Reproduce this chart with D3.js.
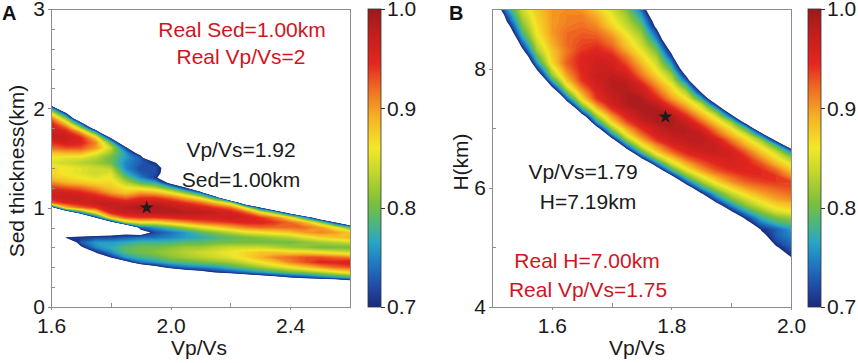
<!DOCTYPE html>
<html lang="en">
<head>
<meta charset="UTF-8" />
<title>Vp/Vs stacking panels</title>
<script src="https://d3js.org/d3.v7.min.js"></script>
<style>
  body { margin: 0; background: #fff; }
  svg { display: block; font-family: 'Liberation Sans', Arial, Helvetica, sans-serif; }
  .frame { fill: none; stroke: #8c8c8c; stroke-width: 1; shape-rendering: crispEdges; }
  .axis line { stroke: #8c8c8c; shape-rendering: crispEdges; }
  .axis text { font-size: 21px; fill: #1a1a1a; font-family: 'Liberation Sans', Arial, sans-serif; }
  .cbar line { stroke: #333; }
  .title { font-size: 21px; fill: #1a1a1a; }
  .note { font-size: 21px; text-anchor: middle; }
  .tag { font-size: 20px; font-weight: bold; fill: #111; }
</style>
</head>
<body>
<svg id="chart" width="858" height="363"></svg>
<script>
// ---- tick values ----
const vpvsTicksA = [1.6, 2.0, 2.4];
const vpvsMinorA = [1.8, 2.2];
const sedTicksA = [0, 1, 2, 3];
const sedMinorA = [0.2, 0.4, 0.6, 0.8, 1.2, 1.4, 1.6, 1.8, 2.2, 2.4, 2.6, 2.8];
const vpvsTicksB = [1.6, 1.8, 2.0];
const vpvsMinorB = [1.5, 1.7, 1.9];
const hTicksB = [4, 6, 8];
const hMinorB = [5, 7, 9];
const colorbarTicks = [0.7, 0.8, 0.9, 1.0];

// ---- annotations ----
const notesA = ["Real Sed=1.00km", "Real Vp/Vs=2", "Vp/Vs=1.92", "Sed=1.00km"];
const notesB = ["Vp/Vs=1.79", "H=7.19km", "Real H=7.00km", "Real Vp/Vs=1.75"];
const bestA = [1.92, 1.00];   // Vp/Vs, sediment thickness (km)
const bestB = [1.79, 7.19];   // Vp/Vs, H (km)

// ---- panel A: normalised stack amplitude (x100), read column by column ----
// [Vp/Vs, first sediment thickness (km), values every 0.05 km upward]
const sedColumns = [
  [1.60, 1.00, [64, 92, 96, 96, 94, 91, 88, 87, 87, 85, 86, 88, 92, 94, 97, 97, 96, 95, 92, 86, 77, 65]],
  [1.65, 0.65, [62, 70.5, 55, 50, 50, 50, 58, 88, 95, 97, 96, 93, 89, 87, 86, 86, 84, 85, 89, 93, 96, 97, 96, 93, 88, 81, 71, 57]],
  [1.70, 0.55, [58, 69, 73, 71, 66, 55, 55, 50, 75, 92, 96, 97, 95, 92, 88, 86, 85, 85, 83, 85, 89, 93, 95, 95, 91, 83, 73, 58]],
  [1.75, 0.50, [62, 70.5, 75, 76, 72, 65, 55, 58, 70.5, 86, 94, 97, 96, 93, 90, 87, 85, 84, 84, 82, 83, 86, 90, 91, 88, 79, 65]],
  [1.80, 0.45, [60, 70.5, 75, 77, 76, 72, 67, 58, 65, 88, 95, 97, 97, 94, 90, 88, 87, 86, 85, 83, 80, 80, 82, 84, 80, 70.5, 55]],
  [1.85, 0.40, [58, 68, 76, 79, 79, 77, 73, 68, 52, 82, 93, 97, 98, 96, 92, 88, 86, 83, 80, 77, 75, 75, 76, 76, 72, 62]],
  [1.90, 0.40, [64, 74, 78, 80, 80, 78, 74, 66, 73, 86, 94, 97, 99, 97, 94, 90, 85, 79, 75, 73, 72, 73, 73, 67, 55]],
  [1.95, 0.35, [60, 68, 76, 79, 81, 80, 78, 74, 72, 76, 86, 94, 98, 99, 97, 94, 89, 83, 77, 71, 72, 72.5, 70.5, 55]],
  [2.00, 0.35, [62, 72, 78, 81, 82, 81, 78, 75, 74, 79, 88, 95, 98, 98, 96, 92, 86, 78, 68, 62, 66, 66, 58]],
  [2.05, 0.35, [66, 74, 79, 82, 83, 82, 79, 76, 76, 82, 90, 96, 98, 97, 94, 89, 81, 70.5, 58]],
  [2.10, 0.30, [58, 68, 75, 80, 83, 84, 82, 79, 77, 79, 85, 92, 96, 98, 96, 92, 85, 74, 54]],
  [2.15, 0.30, [62, 70.5, 76, 81, 84, 85, 83, 80, 78, 81, 87, 93, 96, 97, 94, 88, 76, 50]],
  [2.20, 0.30, [62, 72, 78, 82, 85, 86, 84, 80, 79, 83, 89, 94, 97, 96, 92, 83, 50]],
  [2.25, 0.25, [55, 64, 74, 80, 84, 87, 87, 84, 80, 80, 85, 91, 95, 96, 93, 85, 60]],
  [2.30, 0.25, [58, 66, 76, 82, 86, 89, 88, 84, 80, 81, 86, 92, 95, 94, 87, 70.5, 50]],
  [2.35, 0.25, [60, 68, 78, 84, 88, 91, 88, 83, 80, 82, 87, 92, 94, 91, 80, 55]],
  [2.40, 0.25, [62, 70.5, 80, 86, 91, 92, 87, 82, 80, 83, 88, 92, 92, 86, 66]],
  [2.45, 0.25, [62, 72, 81, 88, 93, 93, 87, 81, 81, 85, 90, 92, 89, 76, 50]],
  [2.50, 0.25, [61, 74, 83, 90, 95, 93, 86, 80, 82, 87, 91, 90, 82, 62]],
  [2.55, 0.25, [61, 76, 85, 92, 95, 92, 85, 80, 83, 88, 90, 86, 70.5, 50]],
  [2.60, 0.25, [65, 78, 87, 93, 96, 91, 84, 80, 84, 89, 88, 79, 57]]
];

// ---- panel B: normalised stack amplitude (x100), read row by row ----
// [H (km), first Vp/Vs, values every 0.025 in Vp/Vs to the right]
const hRows = [
  [9.2, 1.500, [68, 79, 85, 88, 89, 89, 88, 85.5, 82, 78, 68]],
  [9.1, 1.500, [65, 78, 84, 88, 89.5, 90, 89, 86.5, 83, 79.5, 71, 58]],
  [9.0, 1.500, [62, 76, 84, 88, 90, 90.5, 90, 87.5, 84.5, 80.5, 73.5, 61]],
  [8.9, 1.500, [57, 73, 83, 87.5, 90, 91, 91, 89, 85.5, 82, 76, 64]],
  [8.8, 1.525, [70.5, 81.5, 87, 90, 91, 91.5, 90, 86.5, 83, 78, 67]],
  [8.7, 1.525, [67, 80, 86.5, 90, 91.5, 92, 91, 87.5, 84, 80, 69]],
  [8.6, 1.525, [64, 78, 86, 90, 92, 92.5, 92, 89.5, 85.5, 81.5, 72.5, 57]],
  [8.5, 1.525, [59, 75.5, 85, 89.5, 92, 93, 93, 91, 87, 83, 75, 61]],
  [8.4, 1.525, [54, 72, 83.5, 89, 92, 93.5, 94, 92, 88, 84, 78, 65]],
  [8.3, 1.550, [68, 82, 88, 91.5, 94, 95, 93.5, 89.5, 85.5, 80.5, 68.5]],
  [8.2, 1.550, [63, 79, 87.5, 92, 95, 96, 95, 91.5, 87, 82.5, 72, 55]],
  [8.1, 1.550, [58, 76, 87, 92.5, 95, 96.5, 96, 93, 88.5, 84, 75.5, 60]],
  [8.0, 1.550, [51, 71, 84.5, 91.5, 95, 96.5, 96.5, 94.5, 90, 85.5, 78.5, 64]],
  [7.9, 1.575, [65.5, 82, 90, 94.5, 97, 97.5, 96, 91.5, 87, 82, 68.5]],
  [7.8, 1.575, [57.5, 77, 88, 94, 96.5, 98, 97.5, 93.5, 89, 84, 73.5, 55.5]],
  [7.7, 1.575, [55, 70.2, 85, 92, 96, 98, 98.3, 96, 91, 86.5, 79, 64]],
  [7.6, 1.600, [62, 80, 89.5, 95, 97.5, 98.5, 97, 93, 88, 83, 70, 55]],
  [7.5, 1.625, [73.5, 87, 94, 97, 98.5, 98.5, 95, 90, 86, 77, 61]],
  [7.4, 1.625, [65.5, 82, 91, 96, 98.5, 99, 97.5, 93, 88.5, 83.5, 70, 55]],
  [7.3, 1.625, [54.5, 75, 87, 93.5, 97, 98.5, 99, 96, 91.5, 86.5, 79, 63]],
  [7.2, 1.650, [66, 82, 90, 95.5, 98, 99, 98.5, 94.5, 89.5, 84.5, 73, 55]],
  [7.1, 1.650, [57.5, 76, 87, 93, 96.5, 98.5, 99, 97, 92.5, 87.5, 82, 67]],
  [7.0, 1.675, [67.5, 82, 89.5, 94.5, 97, 98.5, 98, 95.5, 90.5, 86, 78, 61]],
  [6.9, 1.675, [58, 75.5, 86.5, 92, 96, 97.5, 98, 97.5, 93, 88.5, 84, 73, 55]],
  [6.8, 1.700, [67, 81.5, 89, 94, 96.5, 97.5, 98, 96, 91.5, 87, 82, 68.5]],
  [6.7, 1.700, [57, 74, 85, 90.5, 94.5, 96.5, 97.5, 97, 94, 89.5, 85.5, 79, 65]],
  [6.6, 1.725, [65, 79, 87.5, 92, 95, 96.5, 97, 96, 92.5, 88, 84, 76]],
  [6.5, 1.750, [70.3, 82, 88, 92.5, 94.5, 95.5, 96, 94.5, 90.5, 86.5, 82]],
  [6.4, 1.750, [59, 74, 84, 89, 92.5, 94.5, 95.5, 95, 93, 89, 85.5]],
  [6.3, 1.775, [65, 78, 85.5, 90, 93, 94.5, 95, 94.5, 92, 88]],
  [6.2, 1.775, [55, 69, 80.5, 86, 90, 92.5, 94, 94.5, 94, 90.5]],
  [6.1, 1.800, [61, 73.5, 82, 87, 90.5, 92.5, 93.5, 94, 93.5]],
  [6.0, 1.825, [65.5, 76.5, 83, 87, 90, 91.5, 92.5, 93]],
  [5.9, 1.825, [55, 69.3, 78, 83.5, 87, 89.5, 91, 92]],
  [5.8, 1.850, [62.5, 73, 80, 84, 87, 89.5, 90.5]],
  [5.7, 1.875, [66.5, 75, 81, 84.5, 87, 88]],
  [5.6, 1.875, [55, 69.4, 76.5, 81, 84.5, 86]],
  [5.5, 1.900, [64.5, 71.5, 77.5, 80.5, 82]],
  [5.4, 1.925, [67.5, 74, 77.5, 79]],
  [5.3, 1.925, [60, 70.3, 73, 76]],
  [5.2, 1.950, [68.3, 73, 75]],
  [5.1, 1.950, [65, 72, 74]],
  [5.0, 1.975, [69.4, 73]],
  [4.9, 1.975, [67, 71.5]],
  [4.8, 1.975, [55, 69]],
  [4.7, 2.000, [60]]
];

// jet-like colour map of the figure
const colorStops = [0.70, 0.72, 0.745, 0.765, 0.785, 0.805, 0.835, 0.86, 0.89, 0.92, 0.945, 0.975, 1.0];
const colorRange = ["#1b2a78", "#1f4aa5", "#1f7cc3", "#28a6c6", "#4fb77a", "#7cbf3b",
                    "#c3d62d", "#f3e829", "#f6b425", "#ef6c22", "#e3261f", "#c21e1e", "#9a1a1b"];
const color = d3.scaleLinear().domain(colorStops).range(colorRange).clamp(true);

const svg = d3.select("#chart");
const levels = d3.range(140, 200, 1).map(v => v / 200);   // 0.700 .. 0.995
const FLOOR = 0.5;

function emptyGrid(nx, ny) { return new Array(nx * ny).fill(FLOOR); }

// grid spec: x0, dx, nx, y0, dy, ny
function gridFromColumns(cols, s) {
  const g = emptyGrid(s.nx, s.ny);
  cols.forEach(([x, yStart, vals]) => {
    const i = Math.round((x - s.x0) / s.dx);
    const j0 = Math.round((yStart - s.y0) / s.dy);
    vals.forEach((v, k) => { g[(j0 + k) * s.nx + i] = v / 100; });
  });
  return g;
}
function gridFromRows(rows, s) {
  const g = emptyGrid(s.nx, s.ny);
  rows.forEach(([y, xStart, vals]) => {
    const j = Math.round((y - s.y0) / s.dy);
    const i0 = Math.round((xStart - s.x0) / s.dx);
    vals.forEach((v, k) => { g[j * s.nx + i0 + k] = v / 100; });
  });
  return g;
}

function drawPanel(p) {
  const g = svg.append("g");
  const [x0, x1] = p.x.range(), [yb, yt] = p.y.range();

  g.append("clipPath").attr("id", p.id + "-clip")
    .append("rect").attr("x", x0).attr("y", yt).attr("width", x1 - x0).attr("height", yb - yt);

  // filled contour bands
  const s = p.spec;
  const proj = d3.geoTransform({
    point(px, py) {
      this.stream.point(p.x(s.x0 + (px - 0.5) * s.dx), p.y(s.y0 + (py - 0.5) * s.dy));
    }
  });
  const path = d3.geoPath(proj);
  const bands = d3.contours().size([s.nx, s.ny]).thresholds(levels)(p.grid);
  g.append("g").attr("clip-path", `url(#${p.id}-clip)`)
    .selectAll("path").data(bands).join("path")
    .attr("d", path)
    .attr("fill", d => color(d.value + 0.0025));

  // axes: majors outward, minors inward
  const bottom = g.append("g").attr("class", "axis").attr("transform", `translate(0,${yb})`);
  bottom.call(d3.axisBottom(p.x).tickValues(p.xMajor).tickFormat(d3.format(".1f"))
    .tickSizeInner(3).tickSizeOuter(0).tickPadding(8));
  bottom.call(g2 => g2.select(".domain").remove());
  g.append("g").attr("class", "axis").attr("transform", `translate(0,${yb})`)
    .call(d3.axisBottom(p.x).tickValues(p.xMinor).tickFormat("").tickSizeInner(-4).tickSizeOuter(0))
    .call(g2 => g2.select(".domain").remove());

  const left = g.append("g").attr("class", "axis").attr("transform", `translate(${x0},0)`);
  left.call(d3.axisLeft(p.y).tickValues(p.yMajor).tickFormat(d3.format("d"))
    .tickSizeInner(3).tickSizeOuter(0).tickPadding(3));
  left.call(g2 => g2.select(".domain").remove());
  g.append("g").attr("class", "axis").attr("transform", `translate(${x0},0)`)
    .call(d3.axisLeft(p.y).tickValues(p.yMinor).tickFormat("").tickSizeInner(-4).tickSizeOuter(0))
    .call(g2 => g2.select(".domain").remove());

  g.append("rect").attr("class", "frame")
    .attr("x", x0 + 0.5).attr("y", yt + 0.5).attr("width", x1 - x0).attr("height", yb - yt);

  // best-fit star
  g.append("path")
    .attr("d", d3.symbol().type(d3.symbolStar).size(60))
    .attr("transform", `translate(${p.x(p.best[0])},${p.y(p.best[1])})`)
    .attr("fill", "#1c1c1c");

  // colour bar
  const cb = p.cbar;
  const cy = d3.scaleLinear().domain([0.7, 1.0]).range([yb, yt]);
  const grad = svg.append("defs").append("linearGradient").attr("id", p.id + "-grad")
    .attr("x1", 0).attr("y1", 1).attr("x2", 0).attr("y2", 0);
  colorStops.forEach((v, i) => grad.append("stop")
    .attr("offset", (v - 0.7) / 0.3).attr("stop-color", colorRange[i]));
  g.append("rect").attr("x", cb).attr("y", yt).attr("width", 13).attr("height", yb - yt)
    .attr("fill", `url(#${p.id}-grad)`).attr("stroke", "#333").attr("stroke-width", 0.8);
  g.append("g").attr("class", "axis cbar").attr("transform", `translate(${cb + 13},0)`)
    .call(d3.axisRight(cy).tickValues(colorbarTicks).tickFormat(d3.format(".1f"))
      .tickSizeInner(4).tickSizeOuter(0).tickPadding(2))
    .call(g2 => g2.select(".domain").remove());

  return g;
}

// ---- panel A ----
const xA = d3.scaleLinear().domain([1.6, 2.6]).range([51, 350]);
const yA = d3.scaleLinear().domain([0, 3]).range([307, 9]);
const specA = { x0: 1.6, dx: 0.05, nx: 21, y0: 0.2, dy: 0.05, ny: 39 };
drawPanel({
  id: "pa", x: xA, y: yA, spec: specA, grid: gridFromColumns(sedColumns, specA),
  xMajor: vpvsTicksA, xMinor: vpvsMinorA, yMajor: sedTicksA, yMinor: sedMinorA,
  best: bestA, cbar: 368
});

// ---- panel B ----
const xB = d3.scaleLinear().domain([1.5, 2.0]).range([492, 791]);
const yB = d3.scaleLinear().domain([4, 9]).range([307, 9]);
const specB = { x0: 1.5, dx: 0.025, nx: 21, y0: 4.6, dy: 0.1, ny: 47 };
drawPanel({
  id: "pb", x: xB, y: yB, spec: specB, grid: gridFromRows(hRows, specB),
  xMajor: vpvsTicksB, xMinor: vpvsMinorB, yMajor: hTicksB, yMinor: hMinorB,
  best: bestB, cbar: 808
});

// axis titles
svg.append("text").attr("class", "title").attr("x", 199).attr("y", 355)
  .attr("text-anchor", "middle").text("Vp/Vs");
svg.append("text").attr("class", "title").attr("text-anchor", "middle")
  .attr("transform", "translate(23.5,171) rotate(-90)").text("Sed thickness(km)");
svg.append("text").attr("class", "title").attr("x", 637).attr("y", 355)
  .attr("text-anchor", "middle").text("Vp/Vs");
svg.append("text").attr("class", "title").attr("text-anchor", "middle")
  .attr("transform", "translate(468,162) rotate(-90)").text("H(km)");

// panel tags
svg.append("text").attr("class", "tag").attr("x", 2).attr("y", 20).text("A");
svg.append("text").attr("class", "tag").attr("x", 449).attr("y", 20).text("B");

// annotations
const red = "#d2141e", ink = "#1a1a1a";
[[notesA[0], 242, 37, red], [notesA[1], 241, 64, red],
 [notesA[2], 241, 157, ink], [notesA[3], 241, 187, ink],
 [notesB[0], 583, 179, ink], [notesB[1], 588, 209, ink],
 [notesB[2], 587, 268, red], [notesB[3], 588, 297, red]]
  .forEach(([t, x, y, c]) => svg.append("text").attr("class", "note")
    .attr("x", x).attr("y", y).attr("fill", c).text(t));
</script>
</body>
</html>
